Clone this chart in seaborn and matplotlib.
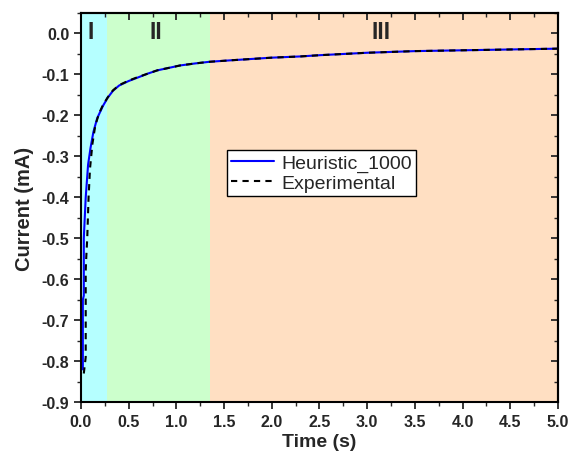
import numpy as np
import pandas as pd
import matplotlib
matplotlib.use("Agg")
import matplotlib.pyplot as plt
from matplotlib.ticker import MultipleLocator, FormatStrFormatter
import seaborn as sns

# Data
heur_t = [0.02, 0.02, 0.03, 0.03, 0.04, 0.05, 0.075, 0.1, 0.13, 0.17, 0.23, 0.28,
          0.335, 0.4, 0.5, 0.59, 0.7, 0.8, 0.9, 1.04, 1.2, 1.35, 1.6, 2.0, 2.3,
          2.5, 3.0, 3.5, 4.0, 4.5, 5.0]
heur_i = [-0.82, -0.65, -0.64, -0.50, -0.45, -0.40, -0.32, -0.28, -0.241, -0.207,
          -0.177, -0.157, -0.140, -0.127, -0.116, -0.108, -0.098, -0.090, -0.085,
          -0.078, -0.073, -0.069, -0.065, -0.059, -0.056, -0.053, -0.047, -0.043,
          -0.041, -0.039, -0.037]
exp_t = [0.03, 0.04, 0.05, 0.05, 0.055, 0.066, 0.08, 0.095, 0.12, 0.15, 0.19, 0.23,
         0.28, 0.335, 0.4, 0.5, 0.59, 0.7, 0.8, 0.9, 1.04, 1.2, 1.35, 1.6, 2.0,
         2.3, 2.5, 3.0, 3.5, 4.0, 4.5, 5.0]
exp_i = [-0.83, -0.81, -0.79, -0.58, -0.55, -0.50, -0.40, -0.33, -0.27, -0.225,
         -0.195, -0.175, -0.156, -0.139, -0.126, -0.115, -0.107, -0.098, -0.090,
         -0.085, -0.078, -0.073, -0.069, -0.065, -0.059, -0.056, -0.053, -0.047,
         -0.043, -0.041, -0.039, -0.037]
regions = ["I", "II", "III"]
region_edges = [0.0, 0.27, 1.35, 5.0]
region_label_x = [0.1, 0.79, 3.15]
region_colors = ["#B5FFFF", "#CCFFCC", "#FFDFC2"]

df = pd.concat([
    pd.DataFrame({"t": heur_t, "i": heur_i, "series": "Heuristic_1000"}),
    pd.DataFrame({"t": exp_t, "i": exp_i, "series": "Experimental"}),
], ignore_index=True)

sns.set_style("ticks")
plt.rcParams["font.family"] = ["Liberation Sans", "DejaVu Sans"]

fig = plt.figure(figsize=(5.7, 4.52), dpi=100)
ax = fig.add_axes([0.142, 0.108, 0.837, 0.861])

for k in range(3):
    ax.axvspan(region_edges[k], region_edges[k + 1], color=region_colors[k], lw=0, zorder=0)
    ax.text(region_label_x[k], 0.005, regions[k],
            ha="center", va="center", fontsize=16.5, fontweight="bold", zorder=3)

sns.lineplot(data=df, x="t", y="i", hue="series", style="series",
             palette={"Heuristic_1000": "#0000FF", "Experimental": "black"},
             dashes={"Heuristic_1000": "", "Experimental": (3, 2.5)},
             estimator=None, sort=False, lw=1.5, ax=ax, zorder=2)

ax.set_xlim(0, 5)
ax.set_ylim(-0.9, 0.05)
ax.xaxis.set_major_locator(MultipleLocator(0.5))
ax.xaxis.set_minor_locator(MultipleLocator(0.25))
ax.yaxis.set_major_locator(MultipleLocator(0.1))
ax.yaxis.set_minor_locator(MultipleLocator(0.05))
ax.xaxis.set_major_formatter(FormatStrFormatter("%.1f"))
ax.yaxis.set_major_formatter(FormatStrFormatter("%.1f"))

ax.tick_params(which="major", direction="out", length=5, width=1.3, labelsize=11.5)
ax.tick_params(which="minor", direction="out", length=3, width=1.0)
for lab in ax.get_xticklabels() + ax.get_yticklabels():
    lab.set_fontweight("bold")

# mirrored ticks on top/right pointing inward
axt = ax.secondary_xaxis("top")
axt.xaxis.set_major_locator(MultipleLocator(0.5))
axt.xaxis.set_minor_locator(MultipleLocator(0.25))
axt.tick_params(which="major", direction="in", length=5, width=1.3, labeltop=False)
axt.tick_params(which="minor", direction="in", length=3, width=1.0)
axr = ax.secondary_yaxis("right")
axr.yaxis.set_major_locator(MultipleLocator(0.1))
axr.yaxis.set_minor_locator(MultipleLocator(0.05))
axr.tick_params(which="major", direction="in", length=5, width=1.3, labelright=False)
axr.tick_params(which="minor", direction="in", length=3, width=1.0)
for sp in list(ax.spines.values()) + list(axt.spines.values()) + list(axr.spines.values()):
    sp.set_linewidth(1.5)
    sp.set_color("black")

ax.set_xlabel("Time (s)", fontsize=14, fontweight="bold", labelpad=3)
ax.set_ylabel("Current (mA)", fontsize=14.5, fontweight="bold", labelpad=5)

leg = ax.legend(loc="upper left", bbox_to_anchor=(0.306, 0.648), fontsize=14,
                frameon=True, fancybox=False, edgecolor="black", framealpha=1,
                handlelength=2.2, handletextpad=0.4, borderpad=0.2, labelspacing=0.15,
                borderaxespad=0)
leg.get_frame().set_linewidth(1.0)

fig.savefig("out.png", dpi=100)
